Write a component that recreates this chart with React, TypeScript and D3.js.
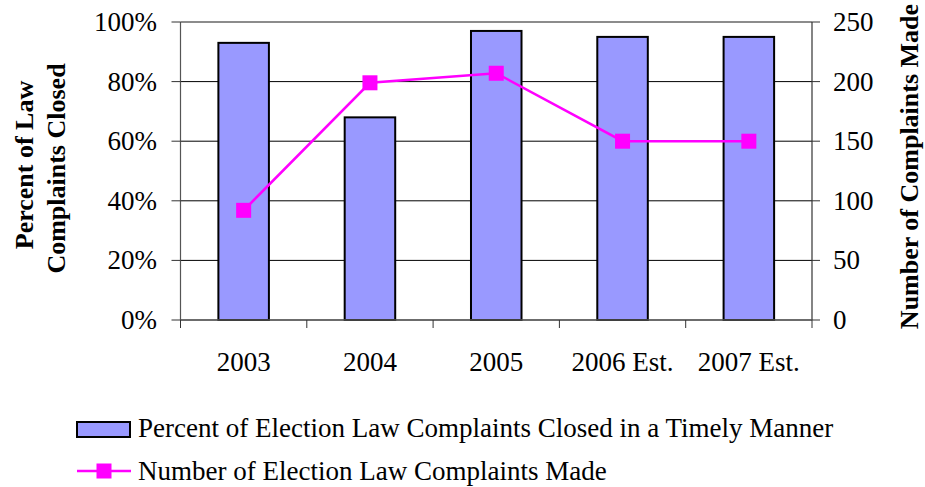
import React from "react";
import * as d3 from "d3";

const categories = ["2003", "2004", "2005", "2006 Est.", "2007 Est."];
const percentClosed = [0.93, 0.68, 0.97, 0.95, 0.95];
const complaintsMade = [92, 199, 207, 150, 150];
const leftTicks = [0, 0.2, 0.4, 0.6, 0.8, 1.0];
const rightTicks = [0, 50, 100, 150, 200, 250];
const barLabel = "Percent of Election Law Complaints Closed in a Timely Manner";
const lineLabel = "Number of Election Law Complaints Made";
const leftTitle = ["Percent of Law", "Complaints Closed"];
const rightTitle = "Number of Complaints Made";

const W = 925;
const H = 487;
const M = { left: 180.5, right: 812, top: 22, bottom: 320 };
const FONT = "Liberation Serif, Times New Roman, serif";
const FS = 27;
const BAR_FILL = "#9999FF";
const LINE_COLOR = "#FF00FF";

export default function App() {
  const x = d3.scaleBand<string>().domain(categories).range([M.left, M.right]).paddingInner(0).paddingOuter(0);
  const yL = d3.scaleLinear().domain([0, 1]).range([M.bottom, M.top]);
  const yR = d3.scaleLinear().domain([0, 250]).range([M.bottom, M.top]);
  const bw = x.bandwidth() * 0.4;
  const pts: [number, number][] = complaintsMade.map((v, i) => [
    (x(categories[i]) as number) + x.bandwidth() / 2,
    yR(v),
  ]);
  const line = d3.line()(pts) as string;
  const fmt = d3.format(".0%");
  const boundaries = categories.map((c) => x(c) as number).concat([M.right]);
  const ms = 15;

  return (
    <svg
      width={W}
      height={H}
      style={{ position: "absolute", left: 0, top: 0, background: "#fff", fontFamily: FONT }}
    >
      <rect x={0} y={0} width={W} height={H} fill="#fff" />
      {leftTicks.map((t) => (
        <line key={"g" + t} x1={M.left} x2={M.right} y1={yL(t)} y2={yL(t)} stroke={t === 1 || t === 0 ? "#666" : "#000"} strokeWidth={t === 1 ? 1.5 : 1} />
      ))}
      {percentClosed.map((v, i) => {
        const cx = (x(categories[i]) as number) + x.bandwidth() / 2;
        return (
          <rect
            key={"b" + i}
            x={cx - bw / 2}
            y={yL(v)}
            width={bw}
            height={yL(0) - yL(v)}
            fill={BAR_FILL}
            stroke="#000"
            strokeWidth={2}
          />
        );
      })}
      <line x1={M.left} x2={M.left} y1={M.top} y2={M.bottom} stroke="#555" strokeWidth={1.2} />
      <line x1={M.right} x2={M.right} y1={M.top} y2={M.bottom} stroke="#333" strokeWidth={1.2} />
      <line x1={M.left} x2={M.right} y1={M.bottom} y2={M.bottom} stroke="#555" strokeWidth={1.5} />
      {leftTicks.map((t) => (
        <g key={"lt" + t}>
          <line x1={M.left - 9} x2={M.left} y1={yL(t)} y2={yL(t)} stroke="#333" />
          <text x={157} y={yL(t) + 9} textAnchor="end" fontSize={FS} fill="#000">
            {fmt(t)}
          </text>
        </g>
      ))}
      {rightTicks.map((t) => (
        <g key={"rt" + t}>
          <line x1={M.right} x2={M.right + 8} y1={yR(t)} y2={yR(t)} stroke="#333" />
          <text x={833} y={yR(t) + 9} textAnchor="start" fontSize={FS} fill="#000">
            {t}
          </text>
        </g>
      ))}
      {boundaries.map((b, i) => (
        <line key={"xt" + i} x1={b} x2={b} y1={M.bottom} y2={M.bottom + 8} stroke="#333" />
      ))}
      {categories.map((c) => (
        <text
          key={"xl" + c}
          x={(x(c) as number) + x.bandwidth() / 2}
          y={371}
          textAnchor="middle"
          fontSize={FS}
          fill="#000"
        >
          {c}
        </text>
      ))}
      <path d={line} fill="none" stroke={LINE_COLOR} strokeWidth={2.5} />
      {pts.map((p, i) => (
        <rect key={"m" + i} x={p[0] - ms / 2} y={p[1] - ms / 2} width={ms} height={ms} fill={LINE_COLOR} />
      ))}
      <g transform={`translate(33, ${(82 + 248) / 2}) rotate(-90)`}>
        <text textAnchor="middle" fontSize={26} fontWeight="bold" fill="#000">
          {leftTitle[0]}
        </text>
      </g>
      <g transform={`translate(65, ${(60 + 277) / 2}) rotate(-90)`}>
        <text textAnchor="middle" fontSize={26} fontWeight="bold" fill="#000">
          {leftTitle[1]}
        </text>
      </g>
      <g transform={`translate(918, ${(5 + 328) / 2}) rotate(-90)`}>
        <text textAnchor="middle" fontSize={26} fontWeight="bold" fill="#000">
          {rightTitle}
        </text>
      </g>
      <rect x={77} y={422} width={53} height={15} fill={BAR_FILL} stroke="#000" strokeWidth={2} />
      <text x={138} y={437} fontSize={FS} fill="#000">
        {barLabel}
      </text>
      <line x1={77} x2={131} y1={471} y2={471} stroke={LINE_COLOR} strokeWidth={2.5} />
      <rect x={104 - ms / 2} y={471 - ms / 2} width={ms} height={ms} fill={LINE_COLOR} />
      <text x={138} y={480} fontSize={FS} fill="#000">
        {lineLabel}
      </text>
    </svg>
  );
}
